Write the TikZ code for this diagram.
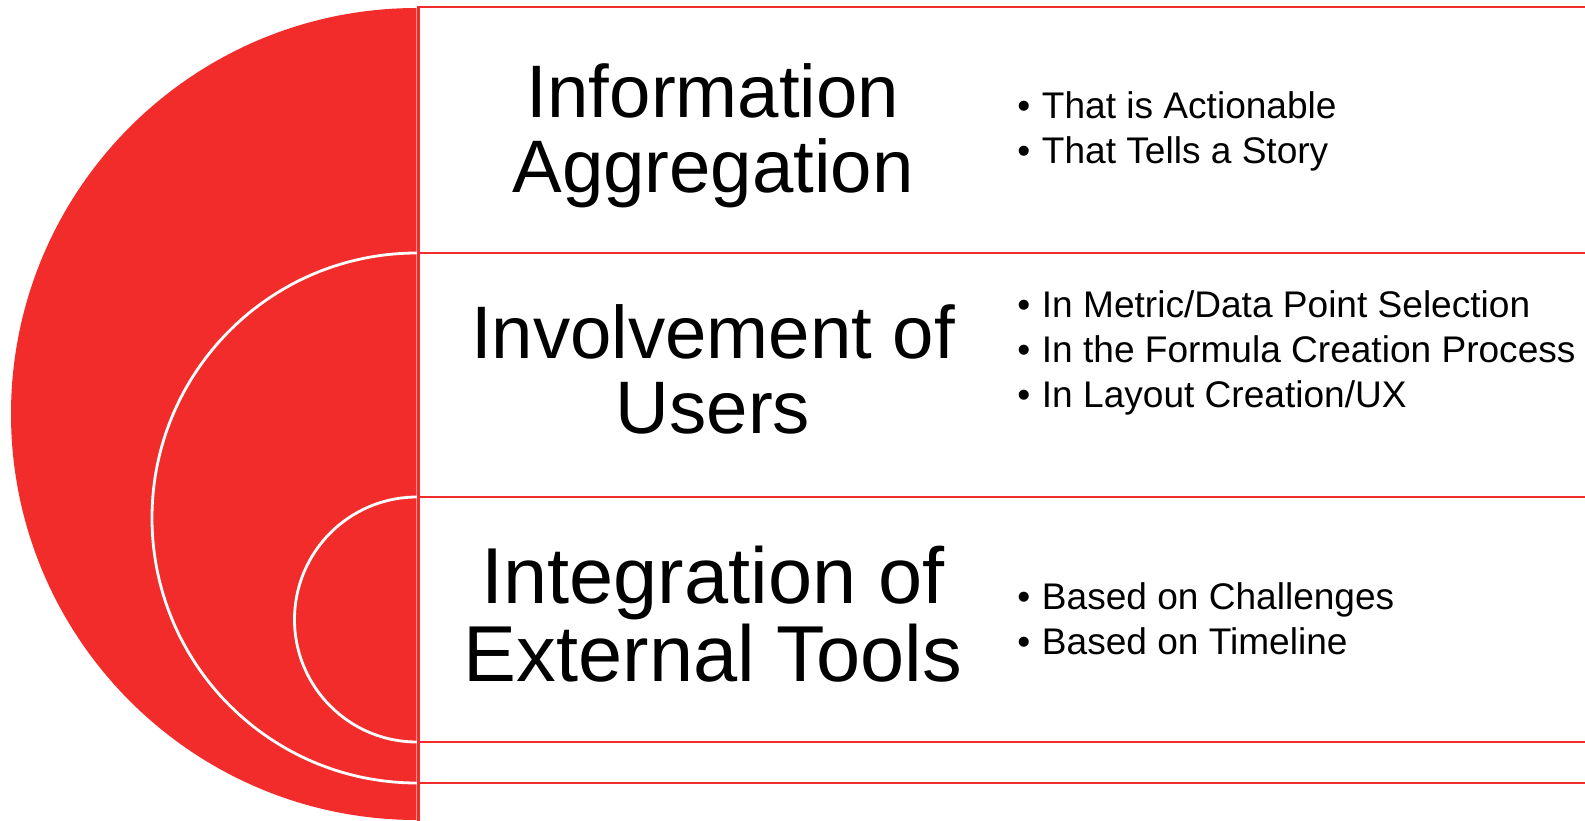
\documentclass[tikz,border=0pt]{standalone}
\usepackage{fontspec}
\setmainfont{Liberation Sans}
\definecolor{tred}{RGB}{242,43,43}
\begin{document}
\begin{tikzpicture}[x=0.75pt,y=-0.75pt,
  hline/.style={draw=tred,line width=2pt},
  warc/.style={draw=white,line width=2.1pt},
  title/.style={anchor=base,inner sep=0pt,font=\fontsize{55.8}{60}\selectfont},
  titleb/.style={anchor=base,inner sep=0pt,font=\fontsize{59.5}{64}\selectfont},
  bul/.style={anchor=base west,inner sep=0pt,font=\fontsize{27.8}{31}\selectfont}]
\useasboundingbox (0,0) rectangle (1585,821);
\fill[white] (0,0) rectangle (1585,821);
\begin{scope}
  \clip (0,0) rectangle (417,821);
  \fill[tred] (417,414) circle[radius=406];
  \draw[warc] (417,518) circle[radius=265];
  \draw[warc] (417,619.5) circle[radius=122.5];
\end{scope}
\draw[white,opacity=0.5,line width=0.75pt] (416.5,8) -- (416.5,821);
% rectangle edges
\draw[hline] (418.3,7) -- (1585,7);
\draw[hline] (418.3,253) -- (1585,253);
\draw[hline] (418.3,497) -- (1585,497);
\draw[hline] (418.3,742) -- (1585,742);
\draw[hline] (418.3,783) -- (1585,783);
\draw[hline] (418.3,5.7) -- (418.3,821);
% titles
\node[title] (t1a) at (713,117) {Information};
\node[title] (t1b) at (713,192) {Aggregation};
\node[title] (t2a) at (713,358) {Involvement of};
\node[title] (t2b) at (713,433) {Users};
\node[titleb] (t3a) at (713,603) {Integration of};
\node[titleb] (t3b) at (713,681) {External Tools};
% bullets
\newcommand{\bt}[1]{\makebox[18.5pt][l]{\textbullet}#1}
\node[bul] (b11) at (1017,118) {\bt{That is Actionable}};
\node[bul] (b12) at (1017,163) {\bt{That Tells a Story}};
\node[bul] (b21) at (1017,317) {\bt{In Metric/Data Point Selection}};
\node[bul] (b22) at (1017,362) {\bt{In the Formula Creation Process}};
\node[bul] (b23) at (1017,407) {\bt{In Layout Creation/UX}};
\node[bul] (b31) at (1017,609) {\bt{Based on Challenges}};
\node[bul] (b32) at (1017,654) {\bt{Based on Timeline}};
\end{tikzpicture}
\end{document}
